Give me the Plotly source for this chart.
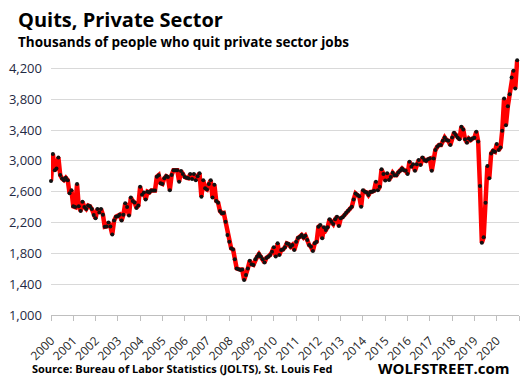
import plotly.graph_objects as go
import pandas as pd

start_month = "2000-12-01"
v2000 = [2740]
v2001 = [3090, 2880, 2900, 3045, 2816, 2770, 2750, 2780, 2750, 2580, 2620, 2410]
v2002 = [2400, 2700, 2410, 2350, 2470, 2400, 2375, 2420, 2410, 2375, 2297, 2254]
v2003 = [2375, 2330, 2375, 2300, 2145, 2150, 2200, 2150, 2046, 2225, 2275, 2280]
v2004 = [2300, 2225, 2300, 2450, 2400, 2290, 2525, 2480, 2460, 2390, 2420, 2665]
v2005 = [2560, 2590, 2500, 2600, 2590, 2615, 2615, 2615, 2795, 2815, 2710, 2700]
v2006 = [2773, 2803, 2790, 2620, 2816, 2880, 2880, 2880, 2730, 2870, 2830, 2790]
v2007 = [2780, 2775, 2830, 2765, 2830, 2750, 2800, 2840, 2535, 2750, 2645, 2630]
v2008 = [2700, 2750, 2525, 2690, 2480, 2457, 2350, 2320, 2325, 2210, 2038, 1950]
v2009 = [1865, 1850, 1722, 1605, 1595, 1585, 1590, 1455, 1520, 1605, 1705, 1660]
v2010 = [1650, 1725, 1755, 1790, 1760, 1725, 1680, 1740, 1755, 1780, 1820, 1878]
v2011 = [1760, 1930, 1778, 1843, 1850, 1878, 1930, 1920, 1886, 1908, 1843, 1950]
v2012 = [2000, 2016, 2038, 2006, 2030, 1973, 1908, 1886, 1830, 1930, 1950, 2145]
v2013 = [2167, 1995, 2140, 2102, 2140, 2241, 2210, 2180, 2241, 2275, 2154, 2254]
v2014 = [2270, 2297, 2327, 2352, 2380, 2405, 2500, 2578, 2556, 2540, 2405, 2620]
v2015 = [2600, 2590, 2556, 2595, 2600, 2612, 2730, 2620, 2665, 2890, 2830, 2745]
v2016 = [2840, 2751, 2790, 2845, 2815, 2815, 2850, 2872, 2902, 2880, 2872, 2830]
v2017 = [2990, 2925, 2955, 2872, 2955, 3010, 2945, 3045, 3010, 3000, 3020, 3030]
v2018 = [2872, 3030, 3140, 3183, 3205, 3205, 3260, 3304, 3270, 3260, 3205, 3304]
v2019 = [3365, 3335, 3304, 3280, 3442, 3408, 3280, 3235, 3290, 3270, 3290, 3300]
v2020 = [3378, 3250, 2673, 1938, 2008, 2457, 2932, 2773, 3097, 3130, 3118, 3218]
v2021 = [3140, 3175, 3390, 3810, 3464, 3710, 3866, 4083, 4170, 3940, 4307]

values = (v2000 + v2001 + v2002 + v2003 + v2004 + v2005 + v2006 + v2007 + v2008
          + v2009 + v2010 + v2011 + v2012 + v2013 + v2014 + v2015 + v2016 + v2017
          + v2018 + v2019 + v2020 + v2021)
dates = pd.date_range(start_month, periods=len(values), freq="MS")

tick_years = list(range(2000, 2022))
tick_vals = [f"{y}-12-01" for y in tick_years]
tick_text = [str(y) if y <= 2020 else "" for y in tick_years]
y_ticks = [1000, 1400, 1800, 2200, 2600, 3000, 3400, 3800, 4200]

fig = go.Figure()
fig.add_trace(go.Scatter(
    x=dates, y=values, mode="lines+markers",
    line=dict(color="#FF0000", width=4.5),
    marker=dict(color="#111111", size=4),
    cliponaxis=False, showlegend=False, hoverinfo="skip",
))

fig.update_layout(
    width=521, height=392,
    margin=dict(l=51, r=2, t=53, b=77, autoexpand=False),
    paper_bgcolor="white", plot_bgcolor="white",
    font=dict(family="Open Sans, Noto Sans, sans-serif", color="#262626"),
)
fig.update_xaxes(
    type="date", range=["2000-12-01", "2021-12-01"],
    tickmode="array", tickvals=tick_vals, ticktext=tick_text,
    tickangle=-45, ticks="outside", ticklen=5, tickcolor="#BFBFBF",
    showline=True, linecolor="#BFBFBF", linewidth=1,
    showgrid=False, zeroline=False, ticklabelstandoff=8,
    tickfont=dict(size=12, color="#262626"),
)
fig.update_yaxes(
    range=[1000, 4400], tickmode="array", tickvals=y_ticks,
    tickformat=",", showgrid=True, gridcolor="#D9D9D9", gridwidth=1,
    zeroline=False, ticks="", ticklabelstandoff=8,
    tickfont=dict(size=13, color="#1F2A44"),
)

fig.add_annotation(text="<b>Quits, Private Sector</b>", xref="paper", yref="paper",
                   x=-0.075, y=1.0, xanchor="left", yanchor="bottom", yshift=18,
                   showarrow=False, font=dict(size=20, color="#000000", family="Open Sans"))
fig.add_annotation(text="<b>Thousands of people who quit private sector jobs</b>",
                   xref="paper", yref="paper", x=-0.075, y=1.0, xanchor="left",
                   yanchor="bottom", yshift=0, showarrow=False,
                   font=dict(size=13.5, color="#000000", family="Open Sans"))
fig.add_annotation(text="<b>Source: Bureau of Labor Statistics (JOLTS), St. Louis Fed</b>",
                   xref="paper", yref="paper", x=-0.045, y=0, xanchor="left",
                   yanchor="middle", yshift=-53, showarrow=False,
                   font=dict(size=11, color="#000000", family="Open Sans"))
fig.add_annotation(text="<b>WOLFSTREET.com</b>", xref="paper", yref="paper",
                   x=0.985, y=0, xanchor="right", yanchor="middle", yshift=-53,
                   showarrow=False, font=dict(size=15, color="#000000", family="Open Sans"))

fig.write_html("out.html", config={"displayModeBar": False},
               post_script="document.body.style.margin='0';")
